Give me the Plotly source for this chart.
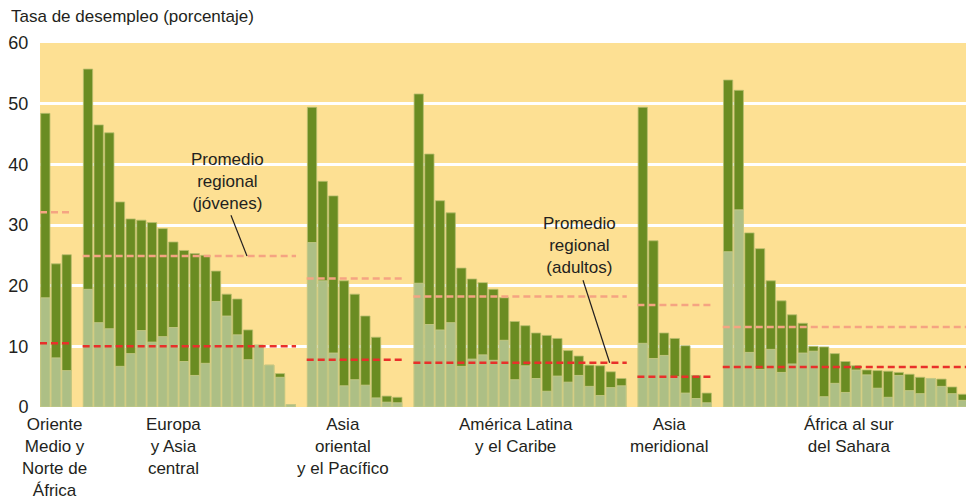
import plotly.graph_objects as go

# Unemployment rate (%) by country, youth vs adults, grouped by region
regions = ["Oriente<br>Medio y<br>Norte de<br>África",
           "Europa<br>y Asia<br>central",
           "Asia<br>oriental<br>y el Pacífico",
           "América Latina<br>y el Caribe",
           "Asia<br>meridional",
           "África al sur<br>del Sahara"]

youth_mena = [48.4, 23.6, 25.1]
adult_mena = [18.0, 8.1, 6.0]

youth_eca = [55.7, 46.5, 45.2, 33.8, 31.0, 30.8, 30.4, 29.4, 27.2, 25.8,
             25.3, 25.0, 22.4, 18.6, 17.8, 12.7, 10.2, 6.9, 5.5, 0.4]
adult_eca = [19.4, 13.9, 12.9, 6.7, 8.8, 12.6, 10.7, 11.6, 13.1, 7.5,
             5.2, 7.2, 17.4, 15.0, 11.9, 7.8, 10.2, 6.9, 4.9, 0.4]

youth_eap = [49.4, 37.2, 34.8, 20.8, 18.6, 15.0, 11.5, 1.8, 1.6]
adult_eap = [27.1, 20.8, 8.9, 3.5, 4.5, 3.6, 1.5, 0.8, 0.7]

youth_lac = [51.6, 41.7, 34.0, 32.0, 22.9, 21.1, 20.5, 19.4, 18.0, 14.1,
             13.4, 12.2, 11.8, 11.3, 9.3, 8.4, 6.9, 6.8, 5.8, 4.7]
adult_lac = [20.4, 13.6, 12.7, 13.9, 6.7, 7.9, 8.6, 7.7, 11.0, 4.5,
             6.8, 4.7, 2.6, 5.1, 4.1, 5.2, 3.4, 1.9, 3.2, 3.5]

youth_sa = [49.4, 27.4, 12.2, 11.3, 10.1, 5.2, 2.3]
adult_sa = [10.5, 8.0, 8.5, 5.0, 2.3, 1.4, 0.7]

youth_ssa = [53.9, 52.2, 28.7, 26.1, 20.8, 17.5, 15.2, 13.8, 10.0, 9.9,
             8.8, 7.5, 6.8, 6.1, 6.0, 5.9, 5.7, 5.4, 4.9, 4.7, 4.6, 3.3, 2.1]
adult_ssa = [25.6, 32.5, 9.0, 6.2, 9.5, 5.7, 7.1, 8.9, 9.2, 1.7,
             3.9, 2.4, 6.1, 5.3, 3.1, 1.6, 5.2, 2.7, 2.2, 4.7, 3.4, 2.2, 1.1]

# regional averages
avg_youth = [32.1, 24.9, 21.2, 18.2, 16.8, 13.2]
avg_adult = [10.5, 10.0, 7.8, 7.3, 5.0, 6.6]

youth_groups = [youth_mena, youth_eca, youth_eap, youth_lac, youth_sa, youth_ssa]
adult_groups = [adult_mena, adult_eca, adult_eap, adult_lac, adult_sa, adult_ssa]

label_x = [0.82, 12.0, 27.9, 44.1, 58.5, 75.3]

DARK = "#6A8C22"
LIGHT = "#ADBF85"
BG = "#FDE093"
FONT = "Liberation Sans, Arial, sans-serif"

# one empty slot between regions
xs, ys_youth, ys_adult, spans = [], [], [], []
pos = 0
for yg, ag in zip(youth_groups, adult_groups):
    start = pos
    for yv, av in zip(yg, ag):
        xs.append(pos)
        ys_youth.append(yv)
        ys_adult.append(av)
        pos += 1
    spans.append((start - 0.5, pos - 0.5))
    pos += 1

fig = go.Figure()
fig.add_trace(go.Bar(x=xs, y=ys_youth, width=0.87, marker_color=DARK,
                     marker_line=dict(color="#B9BE6E", width=0.8)))
fig.add_trace(go.Bar(x=xs, y=ys_adult, width=0.87, marker_color=LIGHT,
                     marker_line=dict(color="#C9CC8A", width=0.8)))

for (x0, x1), ya, aa in zip(spans, avg_youth, avg_adult):
    fig.add_shape(type="line", x0=x0, x1=x1, y0=ya, y1=ya,
                  line=dict(color="#F5A482", width=2.5, dash="7px,4px"))
    fig.add_shape(type="line", x0=x0, x1=x1, y0=aa, y1=aa,
                  line=dict(color="#E8302A", width=2.5, dash="7px,4px"))

# callouts
fig.add_shape(type="line", x0=17.4, y0=31.6, x1=18.9, y1=24.9,
              line=dict(color="#231F20", width=1.2))
fig.add_shape(type="line", x0=50.4, y0=20.9, x1=52.9, y1=7.3,
              line=dict(color="#231F20", width=1.2))
fig.add_annotation(x=17.1, y=37.1, text="Promedio<br>regional<br>(jóvenes)",
                   showarrow=False, font=dict(family=FONT, size=17, color="#231F20"))
fig.add_annotation(x=50.1, y=26.7, text="Promedio<br>regional<br>(adultos)",
                   showarrow=False, font=dict(family=FONT, size=17, color="#231F20"))

for name, lx in zip(regions, label_x):
    fig.add_annotation(x=lx, y=0, yref="paper", yanchor="top", yshift=-6,
                       text=name, showarrow=False, align="center",
                       font=dict(family=FONT, size=17, color="#231F20"))

fig.add_annotation(x=-0.033, xref="paper", xanchor="left", y=1.072, yref="paper",
                   yanchor="middle", text="Tasa de desempleo (porcentaje)", showarrow=False,
                   font=dict(family=FONT, size=17, color="#231F20"))

fig.update_layout(
    width=966, height=500,
    margin=dict(l=40, r=0, t=43, b=93),
    barmode="overlay",
    showlegend=False,
    paper_bgcolor="white",
    plot_bgcolor=BG,
    font=dict(family=FONT, color="#231F20"),
    xaxis=dict(range=[-0.5, 86.3], showticklabels=False, showgrid=False,
               zeroline=False, ticks=""),
    yaxis=dict(range=[0, 60], tickvals=[0, 10, 20, 30, 40, 50, 60],
               showgrid=True, gridcolor="white", gridwidth=3, zeroline=False,
               ticks="outside", ticklen=7, tickcolor="rgba(0,0,0,0)",
               tickfont=dict(family=FONT, size=18, color="#231F20")),
)

# drop the page's default body margin so the figure fills the window
fig.write_html("out.html", config={"displayModeBar": False},
               post_script="document.body.style.margin='0';document.body.style.overflow='hidden';")
